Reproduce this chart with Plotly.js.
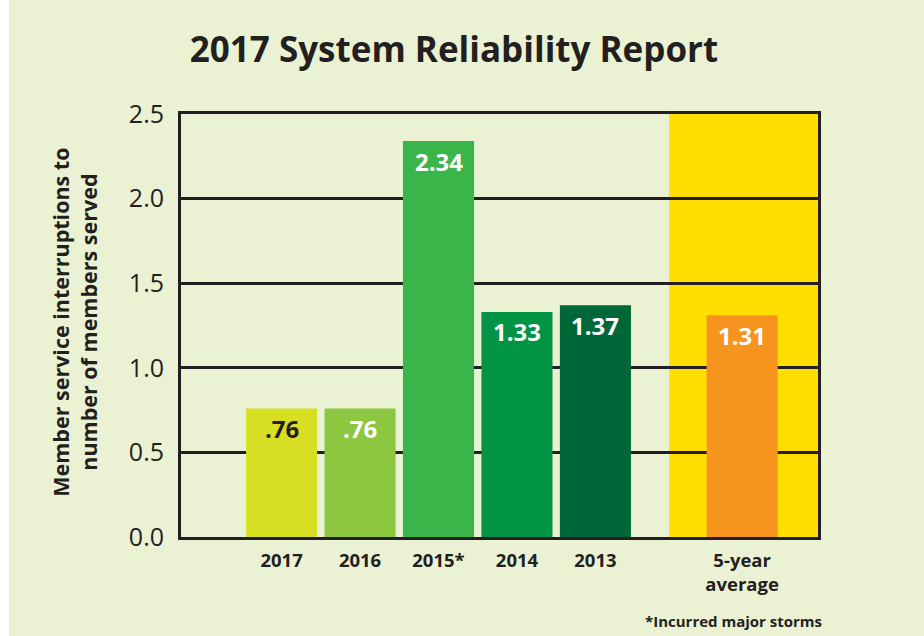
<!DOCTYPE html>
<html>
<head>
<meta charset="utf-8">
<script src="https://cdn.plot.ly/plotly-3.0.1.min.js"></script>
<style>
  html, body { margin: 0; padding: 0; background: #EBF2D3; }
  #chart { width: 924px; height: 636px; }
</style>
</head>
<body>
<div id="chart"></div>
<script>
// ---- Data ----
const categories = ['2017', '2016', '2015*', '2014', '2013', '5-year<br>average'];
const values = [0.76, 0.76, 2.34, 1.33, 1.37, 1.31];
const valueLabels = ['.76', '.76', '2.34', '1.33', '1.37', '1.31'];
const yTickValues = [0, 0.5, 1.0, 1.5, 2.0, 2.5];
const yTickLabels = ['0.0', '0.5', '1.0', '1.5', '2.0', '2.5'];

// ---- Styles ----
const barColors = ['#D7DF23', '#8DC63F', '#3AB54A', '#009444', '#006838', '#F7941E'];
const labelColors = ['#231F20', '#FFFFFF', '#FFFFFF', '#FFFFFF', '#FFFFFF', '#FFFFFF'];
const dark = '#231F20';
const bg = '#EBF2D3';
const FONT = '"Open Sans", sans-serif';

// positions: yearly bars evenly spaced, average bar set apart
const xpos = categories.map((c, i) => i < categories.length - 1 ? i : 5.87);
const xRange = [-1.282, 6.837];

const trace = {
  type: 'bar',
  x: xpos,
  y: values,
  width: 0.906,
  marker: { color: barColors, line: { width: 0 } },
  hoverinfo: 'none',
  cliponaxis: false
};

const annotations = values.map((v, i) => ({
  x: xpos[i], y: v, xref: 'x', yref: 'y',
  text: valueLabels[i],
  showarrow: false,
  yanchor: 'middle',
  yshift: -20,
  font: { family: FONT, size: 24, color: labelColors[i], weight: 700 }
}));

annotations.push({
  xref: 'paper', yref: 'paper',
  x: (75 - 181) / 637, y: (537.5 - 323) / 423.5,
  text: 'Member service interruptions to<br>number of members served',
  textangle: -90,
  showarrow: false,
  xanchor: 'center', yanchor: 'middle',
  font: { family: FONT, size: 21.5, color: dark, weight: 700 }
});

annotations.push({
  xref: 'paper', yref: 'paper',
  x: (824 - 181) / 637, y: (537.5 - 622) / 423.5,
  text: '*Incurred major storms',
  showarrow: false,
  xanchor: 'right', yanchor: 'middle',
  font: { family: FONT, size: 15, color: dark, weight: 700 }
});

const layout = {
  width: 924, height: 636,
  paper_bgcolor: bg, plot_bgcolor: bg,
  margin: { l: 181, r: 106, t: 114, b: 98.5, pad: 0 },
  showlegend: false,
  title: {
    text: '2017 System Reliability Report',
    x: 454 / 924, xanchor: 'center',
    y: 1 - 50 / 636, yanchor: 'middle',
    font: { family: FONT, size: 35, color: dark, weight: 700 }
  },
  xaxis: {
    range: xRange,
    tickmode: 'array', tickvals: xpos, ticktext: categories,
    tickfont: { family: FONT, size: 18.5, color: dark, weight: 700 },
    ticks: '', showgrid: false, zeroline: false,
    showline: true, linewidth: 3, linecolor: dark, mirror: true,
    ticklabelstandoff: 5,
    fixedrange: true
  },
  yaxis: {
    range: [0, 2.5],
    tickmode: 'array', tickvals: yTickValues, ticktext: yTickLabels,
    tickfont: { family: FONT, size: 25, color: dark },
    ticks: '', showgrid: true, gridcolor: dark, gridwidth: 3,
    zeroline: false,
    showline: true, linewidth: 3, linecolor: dark, mirror: true,
    ticklabelstandoff: 9,
    fixedrange: true
  },
  shapes: [
    {
      type: 'rect', xref: 'x', yref: 'paper',
      x0: 4.94, x1: xRange[1], y0: 0, y1: 1,
      fillcolor: '#FFDE00', line: { width: 0 }, layer: 'below'
    },
    {
      type: 'rect', xref: 'paper', yref: 'paper',
      x0: -181 / 637, x1: (9 - 181) / 637, y0: -0.3, y1: 1.4,
      fillcolor: '#FFFFFF', line: { width: 0 }, layer: 'above'
    }
  ],
  annotations: annotations
};

Plotly.newPlot('chart', [trace], layout, { displayModeBar: false, staticPlot: true });
</script>
</body>
</html>
